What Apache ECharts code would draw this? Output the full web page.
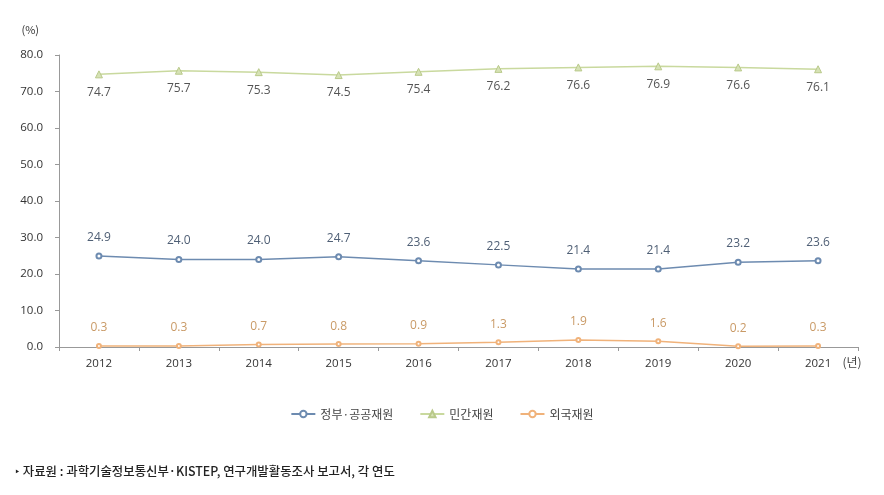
<!DOCTYPE html>
<html><head><meta charset="utf-8">
<script src="https://cdn.jsdelivr.net/npm/echarts@6/dist/echarts.min.js"></script>
<style>html,body{margin:0;padding:0;background:#fff}#c{width:884px;height:495px}</style>
</head><body><div id="c"></div>
<script>
const years = ['2012','2013','2014','2015','2016','2017','2018','2019','2020','2021'];
const gov = [24.9,24.0,24.0,24.7,23.6,22.5,21.4,21.4,23.2,23.6];
const priv = [74.7,75.7,75.3,74.5,75.4,76.2,76.6,76.9,76.6,76.1];
const foreign = [0.3,0.3,0.7,0.8,0.9,1.3,1.9,1.6,0.2,0.3];
const yTicks = [0,10,20,30,40,50,60,70,80];
const names = ['정부·공공재원','민간재원','외국재원'];
const font = '"Noto Sans CJK KR", "Open Sans", sans-serif';
const chart = echarts.init(document.getElementById('c'));
function lbl(pos, color){
  return {show:true, position:pos, distance:pos==='bottom'?8:9, color:color, fontSize:12, fontFamily:'"Open Sans", "Noto Sans CJK KR", sans-serif', formatter:p=>p.value.toFixed(1)};
}
chart.setOption({
  animation:false,
  grid:{left:59, right:26, top:55, bottom:148, containLabel:false},
  legend:{bottom:70, left:'center', itemWidth:24, itemHeight:8, itemGap:26,
    textStyle:{fontFamily:font, fontSize:12, color:'#444'}, data:names},
  xAxis:{type:'category', data:years, boundaryGap:true,
    axisLine:{lineStyle:{color:'#999'}}, axisTick:{show:true, length:4, lineStyle:{color:'#999'}},
    axisLabel:{color:'#333', fontSize:11.5, margin:11, fontFamily:'"Open Sans", sans-serif'},
    name:'(년)', nameLocation:'end', nameGap:-6,
    nameTextStyle:{fontFamily:font, fontSize:12, color:'#444', align:'center', verticalAlign:'top', padding:[9,0,0,0]}},
  yAxis:{type:'value', min:0, max:80, interval:10,
    axisLine:{show:true, lineStyle:{color:'#999'}}, axisTick:{show:true, length:4, lineStyle:{color:'#999'}},
    splitLine:{show:false},
    axisLabel:{color:'#333', fontSize:11.5, margin:16, fontFamily:'"Open Sans", sans-serif', formatter:v=>yTicks.includes(v)?v.toFixed(1):''},
    name:'(%)', nameLocation:'end', nameGap:20,
    nameTextStyle:{fontFamily:font, fontSize:11, color:'#333', align:'right', padding:[0,20,0,0]}},
  series:[
    {name:names[0], type:'line', data:gov, symbol:'emptyCircle', symbolSize:5,
      lineStyle:{color:'#6d8bb0', width:1.5}, itemStyle:{color:'#6d8bb0', borderWidth:1.2},
      label:lbl('top','#4f5f75')},
    {name:names[1], type:'line', data:priv, symbol:'triangle', symbolSize:7,
      lineStyle:{color:'#c9d99e', width:1.5}, itemStyle:{color:'#d6e2b5', borderColor:'#b9c98a', borderWidth:1},
      label:lbl('bottom','#555')},
    {name:names[2], type:'line', data:foreign, symbol:'emptyCircle', symbolSize:4,
      lineStyle:{color:'#f0b27a', width:1.5}, itemStyle:{color:'#f0b27a', borderWidth:1},
      label:lbl('top','#c99a66')}
  ],
  graphic:[
    {type:'text', left:15, top:465, style:{text:'‣ 자료원 : 과학기술정보통신부·KISTEP, 연구개발활동조사 보고서, 각 연도', font:'500 12.4px "Noto Sans CJK KR"', fill:'#222'}}
  ]
});
</script></body></html>
